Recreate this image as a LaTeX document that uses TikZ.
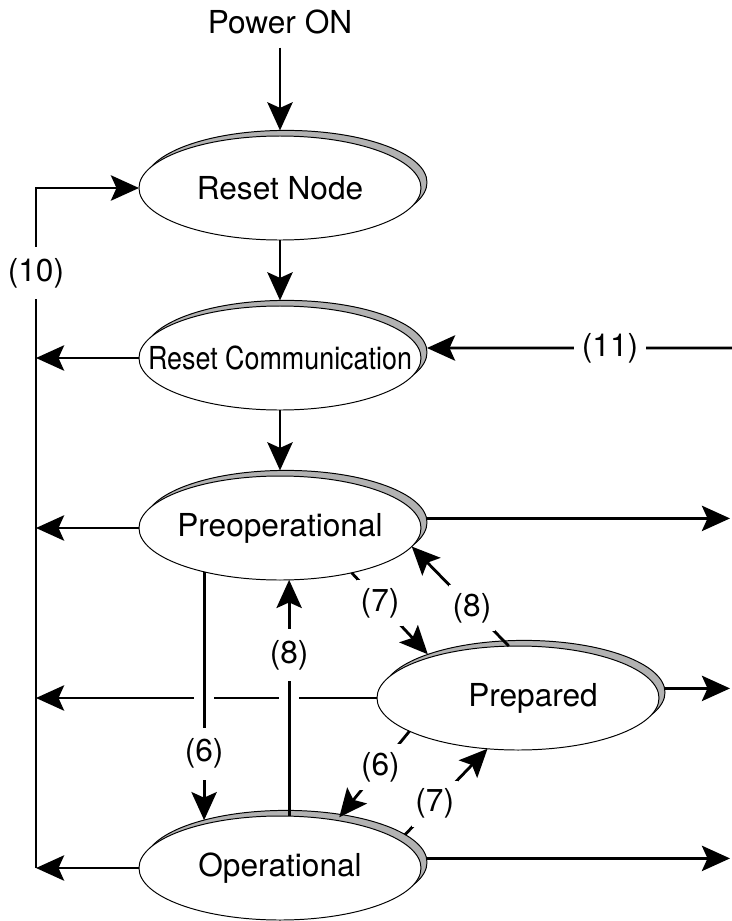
\documentclass[tikz,border=0pt]{standalone}
\usepackage{fontspec}
\setmainfont{TeX Gyre Heros}
\usetikzlibrary{positioning, shapes.geometric, shadows, arrows.meta}
\newcommand\inside[1]{\makebox[0pt]{#1}}
\tikzset{state/.style={ellipse, draw, fill=white, line width=0.7pt, inner sep=0pt, outer sep=0pt, minimum width=7.05cm, minimum height=2.6cm, copy shadow={shadow xshift=0.15cm, shadow yshift=0.14cm, fill=black!30, draw=black, line width=0.7pt}}}
\tikzset{arr/.style={draw, line width=2pt, -{Stealth[length=20pt, width=18pt, inset=4pt]}}}
\tikzset{lbl/.style={fill=white, inner sep=1pt, minimum height=1.3cm}}
\tikzset{dlbl/.style={fill=white, inner sep=0pt, minimum size=1.15cm}}
\tikzset{gap/.style={fill=white, inner sep=0pt, minimum width=0.5cm, minimum height=0.25cm}}

\begin{document}
\begin{tikzpicture}[font=\fontsize{22.5}{26}\selectfont]
	\useasboundingbox (0,0) rectangle (18.3,-23.025);
	\node (pwr) at (7.0,-0.55) {Power ON};
	\node[state] (RN) at (7.0,-4.7) {\inside{Reset Node}};
	\node[state, below=1.65cm of RN] (RC) {\inside{\scalebox{0.85}[1]{Reset Communication}}};
	\node[state, below=1.65cm of RC] (PreOp) {\inside{Preoperational}};
	\node[state] (Prep) at (12.95,-17.45) {\inside{\hspace*{0.75cm}Prepared}};
	\node[state, below=5.9cm of PreOp] (Op) {\inside{Operational}};

	% start-up chain
	\draw[arr, shorten <=6pt, shorten >=0.14cm] (pwr) -- (RN);
	\draw[arr, shorten >=0.14cm] (RN) -- (RC);
	\draw[arr, shorten >=0.14cm] (RC) -- (PreOp);

	% reset bus on the left
	\coordinate (lt) at (0.9,-4.7);
	\coordinate (lb) at (0.9,-21.7);
	\draw[arr] (lb) -- node[lbl, pos=0.875]{(10)} (lt) -- (RN.west);
	\draw[arr] (RC.west) -- (RC.west -| lt);
	\draw[arr] (PreOp.west) -- (PreOp.west -| lt);
	\draw[arr] (Op.west) -- (Op.west -| lt);
	\draw[arr] (Prep.west) -- (Prep.west -| lt);
	\node[gap] at (PreOp.210 |- Prep.west) {};
	\node[gap] at (Op.80 |- Prep.west) {};

	% (11) from the right
	\coordinate (r11) at (18.3,-8.7);
	\coordinate (RCe) at ([xshift=0.15cm, yshift=0.25cm]RC.east);
	\draw[arr] (r11) -- node[lbl, minimum width=1.8cm, minimum height=0.8cm, pos=0.4]{(11)} (RCe);

	% exits to the right
	\coordinate (rend) at (18.25,0);
	\coordinate (PreOpE) at ([xshift=0.15cm, yshift=0.24cm]PreOp.east);
	\coordinate (PrepE) at ([xshift=0.15cm, yshift=0.24cm]Prep.east);
	\coordinate (OpE) at ([xshift=0.15cm, yshift=0.24cm]Op.east);
	\draw[arr] (PreOpE) -- (PreOpE -| rend);
	\draw[arr] (PrepE) -- (PrepE -| rend);
	\draw[arr] (OpE) -- (OpE -| rend);

	% transitions between the NMT states
	\draw[arr, shorten >=0.1cm] (PreOp.210) -- node[lbl, pos=0.72]{(6)} (Op.150);
	\draw[arr] (Op.80) -- node[lbl, pos=0.68]{(8)} (PreOp.-80);
	\draw[arr, shorten >=0.1cm] (PreOp.-32) -- node[dlbl, pos=0.36]{(7)} (Prep.155);
	\draw[arr] (Prep.100) -- node[dlbl, pos=0.38]{(8)} (PreOp.-8);
	\draw[arr, shorten >=0.1cm] (Prep.197) -- node[dlbl, pos=0.4]{(6)} (Op.40);
	\draw[arr, shorten <=0.2cm] (Op.13) -- node[dlbl, pos=0.4]{(7)} (Prep.239);
\end{tikzpicture}
\end{document}
